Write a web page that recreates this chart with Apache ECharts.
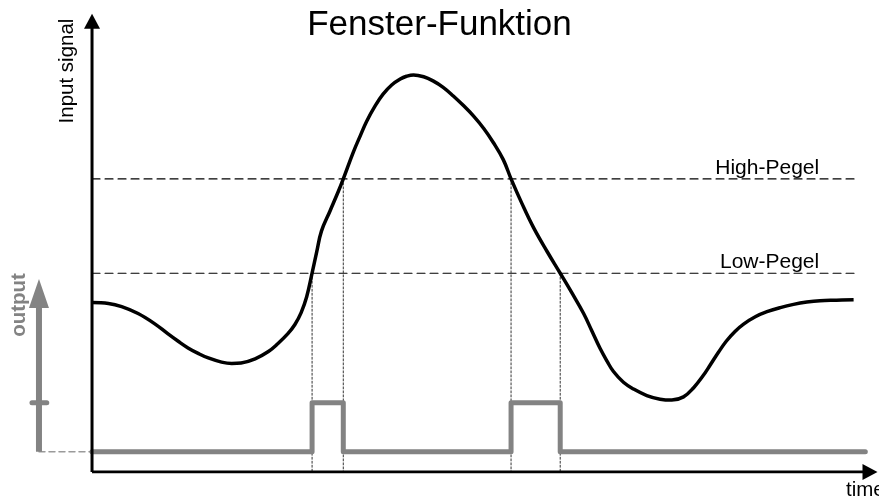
<!DOCTYPE html>
<html>
<head>
<meta charset="utf-8">
<title>Fenster-Funktion</title>
<script src="https://cdn.jsdelivr.net/npm/echarts@6/dist/echarts.min.js"></script>
<style>
  html, body { margin: 0; padding: 0; background: #fff; }
  #chart { width: 879px; height: 499px; }
</style>
</head>
<body>
<div id="chart"></div>
<script>
// input signal (time -> level)
var signalTime = [0, 2.1, 3.8, 5.9, 8.0, 9.7, 11.0, 12.3, 13.6, 14.9,
  16.6, 17.9, 19.1, 20.9, 22.6, 23.8, 25.1, 26.0, 26.8, 27.5,
  28.2, 28.8, 29.4, 30.5, 31.6, 32.2, 33.5, 34.4, 35.2, 36.3,
  37.3, 38.4, 39.5, 40.3, 41.2, 42.5, 43.7, 45.0, 46.3, 47.6,
  48.9, 50.2, 51.4, 52.7, 53.7, 55.1, 56.6, 58.3, 60.0, 61.5,
  63.0, 64.0, 65.1, 66.0, 66.8, 68.1, 69.4, 71.1, 72.8, 74.3,
  75.8, 77.1, 78.3, 79.2, 80.3, 81.3, 82.4, 83.5, 85.0, 86.5,
  88.2, 89.9, 91.6, 93.3, 95.4, 97.6];
var signalValue = [37.0, 36.8, 36.1, 34.6, 32.4, 30.2, 28.6, 27.1, 25.9, 24.9,
  24.0, 23.7, 23.8, 24.7, 26.3, 28.0, 30.2, 32.2, 34.8, 38.2,
  43.4, 48.1, 52.6, 57.0, 61.4, 64.0, 69.9, 73.5, 76.6, 80.0,
  82.5, 84.5, 85.8, 86.4, 86.7, 86.3, 85.4, 84.0, 82.1, 80.0,
  77.7, 75.0, 72.0, 68.2, 64.0, 58.6, 53.3, 48.2, 43.4, 39.1,
  34.6, 31.0, 27.0, 24.2, 22.0, 19.6, 18.1, 16.7, 15.9, 15.7,
  16.4, 18.4, 21.0, 23.3, 26.2, 28.6, 30.7, 32.3, 33.9, 35.0,
  35.9, 36.6, 37.1, 37.4, 37.5, 37.6];

// thresholds
var levelNames = ['High-Pegel', 'Low-Pegel'];
var levelValues = [64.0, 43.4];
var levelEnd = 97.8;

// where the signal crosses a threshold (time, level)
var crossTimes = [28.2, 32.2, 53.7, 60.0];
var crossLevels = [43.4, 64.0, 64.0, 43.4];

// output: low / high and the time it ends
var outputLow = 4.4;
var outputHigh = 15.1;
var outputEnd = 99.1;

// axes drawn as lines with arrow heads
var timeAxisEnd = 99.7;
var signalAxisTop = 98.4;
var outputAxisTime = -6.8;
var outputAxisTop = 39;
var outputTickFrom = -7.7;
var outputTickTo = -5.8;

var FONT = '"Liberation Sans", Arial, sans-serif';
var GRAY = '#838383';

var signalData = signalTime.map(function (t, i) { return [t, signalValue[i]]; });

// step line for the output, switching at each crossing
var outputData = [[0, outputLow]];
for (var i = 0; i < crossTimes.length; i += 2) {
  outputData.push([crossTimes[i], outputLow], [crossTimes[i], outputHigh],
                  [crossTimes[i + 1], outputHigh], [crossTimes[i + 1], outputLow]);
}
outputData.push([outputEnd, outputLow]);

function arrowLine(from, to, color, width, size, rotate) {
  return {
    type: 'line',
    silent: true,
    symbol: 'none',
    lineStyle: { color: color, width: width },
    itemStyle: { color: color },
    data: [
      { value: from, symbol: 'none' },
      { value: to, symbol: 'triangle', symbolSize: size, symbolRotate: rotate || 0 }
    ],
    z: 3
  };
}

function plainLine(data, color, width, type, z) {
  return {
    type: 'line',
    silent: true,
    symbol: 'none',
    lineStyle: { color: color, width: width, type: type || 'solid', cap: 'round', join: 'round' },
    data: data,
    z: z || 2
  };
}

var series = [];

// dashed threshold lines with their labels
levelValues.forEach(function (v, i) {
  var s = plainLine([[0, v], [levelEnd, v]], '#000', 1.1, [8, 5], 1);
  s.endLabel = {
    show: true,
    formatter: levelNames[i],
    fontFamily: FONT,
    fontSize: 21,
    color: '#000',
    align: 'right',
    offset: [-44, -11]
  };
  series.push(s);
});

// dotted drop lines from the crossings down to the time axis
crossTimes.forEach(function (t, i) {
  series.push(plainLine([[t, crossLevels[i]], [t, 0]], '#333', 1, [2, 2], 1));
});

// output staircase
series.push(plainLine(outputData, GRAY, 5, 'solid', 2));

// input signal
series.push({
  type: 'line',
  silent: true,
  smooth: 0.4,
  symbol: 'none',
  lineStyle: { color: '#000', width: 3.5, join: 'round' },
  data: signalData,
  z: 4
});

// main axes
series.push(arrowLine([0, 0], [0, signalAxisTop], '#000', 3, [16, 15]));
series.push(arrowLine([0, 0], [timeAxisEnd, 0], '#000', 3, [16, 15], -90));

// output axis, its tick and the dashed link to the low level
series.push(arrowLine([outputAxisTime, outputLow], [outputAxisTime, outputAxisTop], GRAY, 6, [20, 29]));
series.push(plainLine([[outputTickFrom, outputHigh], [outputTickTo, outputHigh]], GRAY, 5, 'solid', 3));
series.push(plainLine([[outputAxisTime, outputLow], [0, outputLow]], '#9a9a9a', 1.5, [6, 4], 1));

var option = {
  animation: false,
  title: {
    text: 'Fenster-Funktion',
    left: 'center',
    top: 3,
    textStyle: { fontFamily: FONT, fontSize: 35, fontWeight: 'normal', color: '#000' }
  },
  grid: { left: 14, right: 9, top: 14, bottom: 27 },
  xAxis: {
    type: 'value', min: -10, max: timeAxisEnd,
    show: false
  },
  yAxis: {
    type: 'value', min: 0, max: 100,
    show: false
  },
  graphic: [
    {
      type: 'text', x: 67, y: 71, rotation: Math.PI / 2,
      style: { text: 'Input signal', fontFamily: FONT, fontSize: 20.5, fill: '#000', align: 'center', verticalAlign: 'middle' }
    },
    {
      type: 'text', x: 19, y: 305, rotation: Math.PI / 2,
      style: { text: 'output', fontFamily: FONT, fontSize: 20.5, fontWeight: 'bold', fill: GRAY, align: 'center', verticalAlign: 'middle' }
    },
    {
      type: 'text', x: 846, y: 480,
      style: { text: 'time', fontFamily: FONT, fontSize: 20.5, fill: '#000', align: 'left', verticalAlign: 'top' }
    }
  ],
  series: series
};

echarts.init(document.getElementById('chart')).setOption(option);
</script>
</body>
</html>
